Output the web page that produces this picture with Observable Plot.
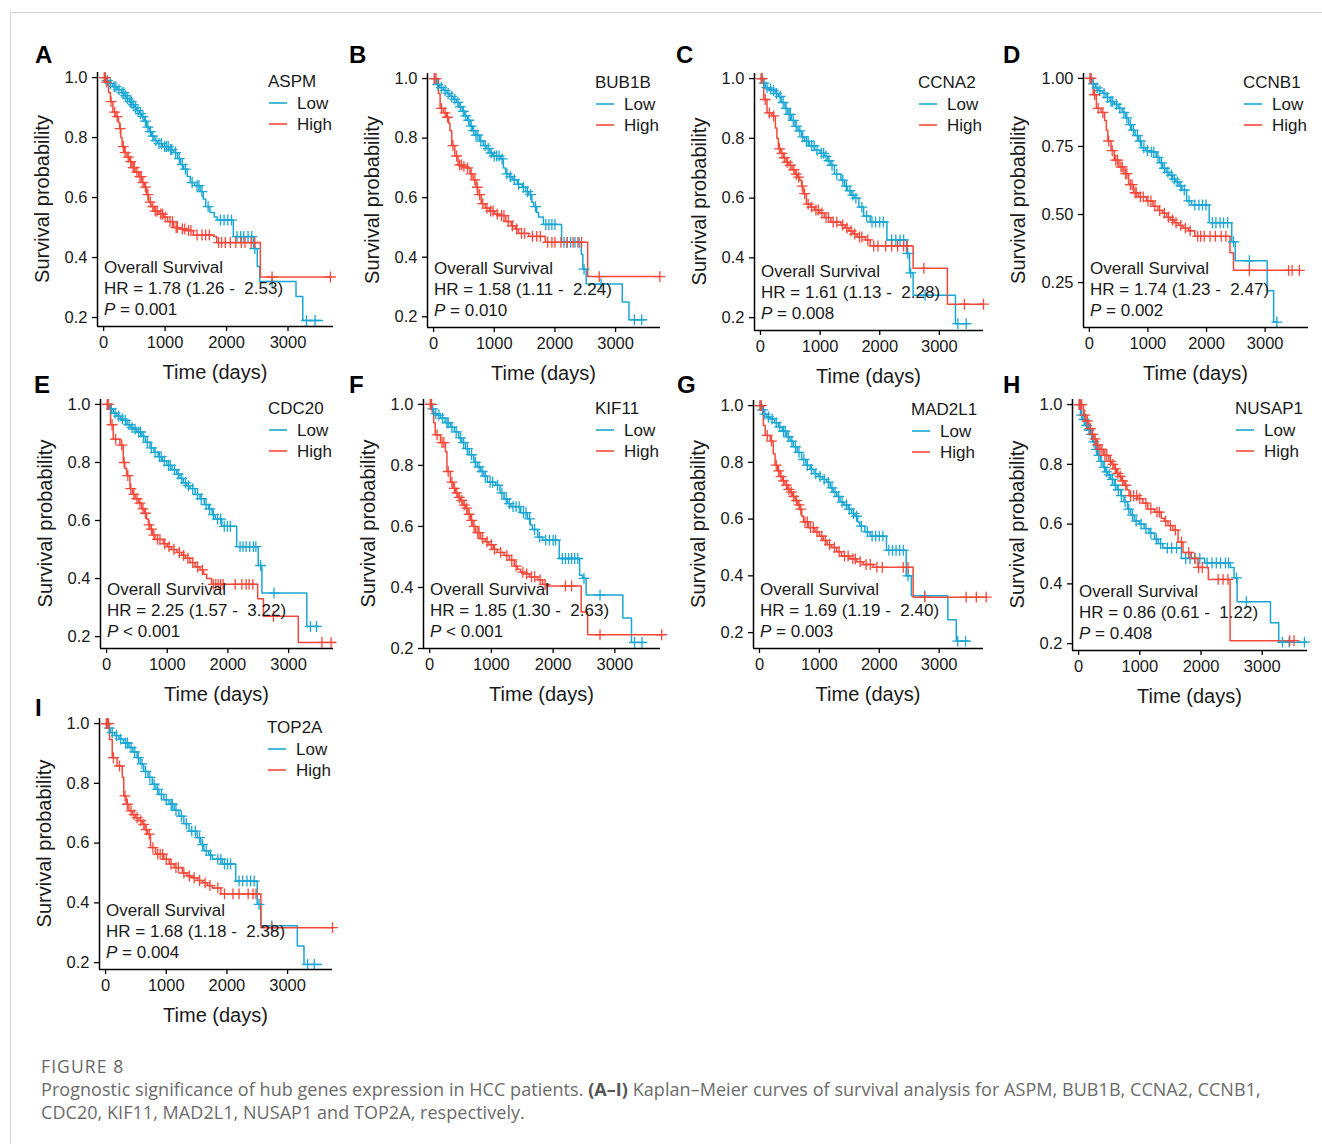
<!DOCTYPE html>
<html><head><meta charset="utf-8">
<script src="https://cdn.jsdelivr.net/npm/d3@7"></script>
<script src="https://cdn.jsdelivr.net/npm/@observablehq/plot@0.6"></script>
<style>
html,body{margin:0;padding:0;background:#fff;}
body{width:1322px;height:1144px;position:relative;overflow:hidden;font-family:"Liberation Sans",Arial,sans-serif;}
#frame{position:absolute;left:10px;top:12px;width:1330px;height:1150px;border-top:1px solid #d4d4d4;border-left:1px solid #d4d4d4;}
.panel{position:absolute;}
.panel svg{overflow:visible;}
.letter{position:absolute;font-weight:bold;font-size:24px;line-height:24px;color:#000;font-family:"Liberation Sans",Arial,sans-serif;}
#figtitle{position:absolute;left:41px;top:1056px;height:20px;font-family:"Open Sans",sans-serif;font-size:17.5px;line-height:20px;color:#666;letter-spacing:1.1px;}
#caption{position:absolute;left:41px;top:1078px;font-family:"Open Sans",sans-serif;font-size:18px;line-height:23px;color:#6b6b6b;white-space:nowrap;letter-spacing:0.05px;}
#caption b{color:#555;}
</style></head>
<body>
<div id="frame"></div>
<div id="panels"></div>
<div id="figtitle">FIGURE 8</div>
<div id="caption">Prognostic significance of hub genes expression in HCC patients. <b>(A–I)</b> Kaplan–Meier curves of survival analysis for ASPM, BUB1B, CCNA2, CCNB1,<br>CDC20, KIF11, MAD2L1, NUSAP1 and TOP2A, respectively.</div>
<script>
// ---------------- DATA ----------------
const genes = ["ASPM","BUB1B","CCNA2","CCNB1","CDC20","KIF11","MAD2L1","NUSAP1","TOP2A"];
const panelLetters = ["A","B","C","D","E","F","G","H","I"];
const hrLabels = ["1.78 (1.26 -  2.53)","1.58 (1.11 -  2.24)","1.61 (1.13 -  2.28)","1.74 (1.23 -  2.47)","2.25 (1.57 -  3.22)","1.85 (1.30 -  2.63)","1.69 (1.19 -  2.40)","0.86 (0.61 -  1.22)","1.68 (1.18 -  2.38)"];
const pLabels = ["= 0.001","= 0.010","= 0.008","= 0.002","< 0.001","< 0.001","= 0.003","= 0.408","= 0.004"];
const groupNames = ["Low","High"];
const xTicks = [0,1000,2000,3000];
const yTicksTenths = [0.2,0.4,0.6,0.8,1.0];
const yTicksQuarters = [0.25,0.5,0.75,1.0];

// Kaplan–Meier steps [time (days), survival]
const lowASPM = [[0,1],[40,0.99],[90,0.98],[150,0.97],[220,0.96],[290,0.95],[340,0.94],[380,0.93],[420,0.92],[460,0.91],[500,0.9],[540,0.89],[580,0.88],[620,0.87],[660,0.855],[700,0.835],[740,0.82],[780,0.805],[820,0.79],[880,0.78],[960,0.77],[1060,0.76],[1140,0.75],[1200,0.73],[1250,0.71],[1300,0.695],[1360,0.67],[1410,0.65],[1480,0.64],[1570,0.62],[1620,0.595],[1660,0.57],[1730,0.55],[1800,0.535],[1850,0.525],[2110,0.47],[2440,0.43],[2500,0.37],[2540,0.32],[3130,0.27],[3240,0.19],[3560,0.19]];
const highASPM = [[0,1],[50,0.985],[80,0.95],[110,0.92],[150,0.885],[200,0.87],[240,0.85],[260,0.83],[280,0.8],[300,0.77],[340,0.75],[380,0.735],[420,0.72],[460,0.7],[510,0.685],[570,0.67],[620,0.65],[660,0.635],[700,0.61],[730,0.585],[770,0.57],[820,0.555],[900,0.545],[975,0.535],[1040,0.52],[1140,0.5],[1250,0.495],[1355,0.49],[1460,0.475],[1790,0.47],[1840,0.45],[2550,0.335],[3690,0.335]];
const lowASPMcens = [20,60,110,170,200,250,300,330,360,390,430,450,480,520,560,600,640,680,720,760,800,850,900,940,990,1020,1050,1090,1110,1170,1230,1280,1330,1440,1520,1550,1600,1700,1900,1960,2020,2080,2170,2230,2280,2350,2410,2460,2740,3300,3440];
const highASPMcens = [10,30,50,120,180,220,270,320,350,400,440,480,500,540,590,610,640,680,720,760,800,840,870,930,960,1000,1080,1120,1180,1200,1280,1320,1380,1420,1520,1600,1660,1720,1870,1920,1980,2060,2150,2240,2300,2400,2460,2740,3690];

const lowBUB1B = [[0,1],[50,0.98],[100,0.97],[160,0.96],[220,0.95],[270,0.94],[330,0.93],[380,0.92],[420,0.905],[470,0.89],[515,0.875],[560,0.86],[600,0.84],[640,0.825],[690,0.81],[760,0.79],[820,0.775],[870,0.765],[930,0.75],[975,0.74],[1110,0.73],[1150,0.7],[1190,0.68],[1250,0.67],[1300,0.66],[1380,0.645],[1460,0.635],[1520,0.62],[1570,0.61],[1620,0.585],[1650,0.57],[1700,0.55],[1730,0.535],[1810,0.51],[2110,0.45],[2435,0.41],[2460,0.36],[2515,0.31],[3110,0.25],[3220,0.19],[3490,0.19]];
const highBUB1B = [[0,1],[80,0.95],[108,0.9],[160,0.885],[216,0.87],[250,0.85],[270,0.825],[300,0.775],[350,0.74],[405,0.71],[470,0.705],[540,0.7],[600,0.68],[650,0.66],[700,0.635],[730,0.61],[785,0.58],[850,0.565],[920,0.555],[1000,0.545],[1080,0.54],[1190,0.52],[1280,0.505],[1350,0.495],[1400,0.48],[1570,0.47],[1840,0.45],[2540,0.335],[3730,0.335]];
const lowBUB1Bcens = [20,70,130,190,240,300,350,400,440,490,530,580,620,660,700,730,780,850,900,950,1000,1040,1080,1130,1210,1270,1330,1400,1480,1550,1600,1680,1850,1900,1950,2000,2150,2200,2260,2330,2400,2480,2760,3310,3430];
const highBUB1Bcens = [10,40,130,190,230,320,380,430,460,500,560,620,680,720,760,810,880,940,980,1050,1120,1160,1230,1300,1370,1450,1500,1630,1700,1760,1880,1950,2000,2100,2200,2300,2380,2440,2730,3730];

const lowCCNA2 = [[0,1],[40,0.985],[80,0.97],[140,0.965],[190,0.96],[250,0.95],[300,0.94],[350,0.92],[410,0.9],[460,0.88],[520,0.86],[580,0.84],[630,0.825],[690,0.805],[740,0.79],[820,0.775],[910,0.76],[1000,0.75],[1070,0.74],[1130,0.725],[1180,0.71],[1240,0.68],[1350,0.66],[1410,0.64],[1460,0.625],[1520,0.61],[1570,0.6],[1650,0.57],[1730,0.54],[1840,0.52],[2120,0.46],[2450,0.415],[2500,0.35],[2560,0.275],[3270,0.18],[3490,0.18]];
const highCCNA2 = [[0,1],[55,0.93],[110,0.885],[190,0.875],[250,0.835],[275,0.8],[300,0.765],[340,0.75],[385,0.735],[430,0.72],[470,0.71],[530,0.695],[580,0.68],[620,0.67],[660,0.66],[690,0.64],[715,0.615],[770,0.58],[840,0.57],[910,0.56],[990,0.55],[1070,0.535],[1180,0.52],[1350,0.51],[1420,0.5],[1485,0.49],[1550,0.48],[1620,0.47],[1760,0.46],[1840,0.44],[2560,0.365],[3135,0.245],[3740,0.245]];
const lowCCNA2cens = [20,60,110,170,220,270,330,380,430,480,500,550,600,660,710,770,800,860,900,950,1020,1060,1100,1150,1200,1280,1380,1440,1500,1550,1600,1700,1780,1870,1930,2000,2060,2200,2270,2340,2400,2470,2520,2760,3310,3450];
const highCCNA2cens = [10,30,80,150,220,320,360,400,450,500,560,600,640,700,740,800,860,930,970,1030,1100,1140,1220,1280,1380,1450,1520,1580,1660,1700,1800,1900,1970,2100,2200,2300,2400,2460,2740,3420,3740];

const lowCCNB1 = [[0,1],[40,0.98],[100,0.965],[150,0.955],[220,0.945],[285,0.93],[350,0.915],[425,0.905],[490,0.89],[560,0.875],[620,0.855],[670,0.83],[720,0.81],[780,0.79],[840,0.77],[890,0.745],[960,0.735],[1030,0.73],[1140,0.71],[1200,0.69],[1250,0.67],[1310,0.655],[1360,0.645],[1420,0.63],[1470,0.62],[1530,0.605],[1580,0.59],[1660,0.55],[1745,0.535],[2045,0.47],[2430,0.4],[2490,0.33],[3035,0.22],[3145,0.105],[3200,0.105]];
const highCCNB1 = [[0,1],[65,0.94],[120,0.89],[200,0.875],[260,0.845],[290,0.81],[315,0.77],[370,0.735],[425,0.7],[505,0.675],[590,0.65],[670,0.61],[755,0.58],[835,0.565],[975,0.55],[1085,0.53],[1170,0.515],[1250,0.505],[1320,0.49],[1385,0.48],[1450,0.47],[1525,0.46],[1600,0.45],[1690,0.44],[1800,0.42],[2400,0.36],[2460,0.295],[3585,0.295]];
const lowCCNB1cens = [20,70,130,180,250,310,370,400,460,520,590,640,700,750,820,870,930,990,1060,1100,1170,1230,1280,1340,1400,1450,1500,1560,1620,1700,1800,1870,1930,1990,2100,2160,2230,2290,2360,2460,2730,3200];
const highCCNB1cens = [10,30,90,150,230,330,390,450,480,540,560,620,640,700,730,780,800,870,920,1000,1050,1120,1200,1280,1350,1420,1480,1560,1640,1720,1850,1900,1960,2060,2150,2250,2330,2730,3400,3460,3585];

const lowCDC20 = [[0,1],[50,0.985],[110,0.97],[170,0.96],[230,0.95],[275,0.945],[340,0.93],[400,0.92],[440,0.915],[500,0.905],[580,0.89],[640,0.87],[715,0.85],[780,0.835],[850,0.82],[920,0.805],[990,0.79],[1080,0.775],[1155,0.76],[1210,0.745],[1265,0.73],[1320,0.72],[1375,0.71],[1460,0.69],[1540,0.675],[1610,0.655],[1680,0.64],[1740,0.62],[1790,0.605],[1900,0.58],[2145,0.51],[2500,0.445],[2560,0.35],[3300,0.235],[3500,0.235]];
const highCDC20 = [[0,1],[65,0.93],[110,0.88],[220,0.86],[275,0.8],[300,0.78],[330,0.755],[385,0.71],[430,0.69],[470,0.675],[530,0.66],[580,0.64],[620,0.625],[660,0.605],[690,0.585],[715,0.57],[760,0.55],[800,0.535],[935,0.52],[1000,0.51],[1070,0.5],[1160,0.49],[1240,0.48],[1300,0.47],[1375,0.455],[1460,0.44],[1540,0.43],[1600,0.415],[1650,0.4],[1730,0.38],[2490,0.33],[2585,0.27],[3160,0.18],[3770,0.18]];
const lowCDC20cens = [20,80,140,200,260,310,370,420,470,530,560,610,670,740,800,870,900,950,1020,1050,1120,1180,1240,1300,1350,1420,1500,1560,1640,1700,1760,1830,1880,1940,1990,2040,2200,2250,2300,2360,2420,2460,2540,2760,3360,3460];
const highCDC20cens = [10,30,90,150,250,290,350,400,450,500,550,600,640,700,740,780,840,880,960,1030,1110,1200,1270,1340,1420,1500,1580,1760,1800,1840,1880,1920,2120,2230,2300,2350,2410,2750,3550,3700];

const lowKIF11 = [[0,1],[30,0.985],[65,0.97],[120,0.965],[175,0.955],[250,0.94],[335,0.925],[400,0.91],[470,0.89],[520,0.875],[580,0.855],[640,0.835],[715,0.81],[770,0.795],[825,0.78],[880,0.765],[935,0.745],[1070,0.735],[1140,0.71],[1205,0.69],[1260,0.675],[1315,0.665],[1475,0.645],[1585,0.625],[1630,0.605],[1665,0.59],[1750,0.565],[1830,0.555],[2100,0.495],[2430,0.44],[2480,0.43],[2535,0.375],[3130,0.3],[3270,0.22],[3490,0.22]];
const highKIF11 = [[0,1],[40,0.975],[65,0.94],[90,0.9],[175,0.875],[255,0.845],[280,0.78],[335,0.745],[380,0.725],[420,0.71],[460,0.695],[500,0.685],[540,0.67],[580,0.66],[620,0.64],[660,0.62],[700,0.6],[745,0.58],[825,0.56],[900,0.55],[960,0.54],[1030,0.525],[1095,0.515],[1205,0.505],[1290,0.49],[1370,0.47],[1420,0.46],[1475,0.45],[1540,0.445],[1615,0.435],[1750,0.425],[1830,0.41],[1900,0.405],[2455,0.32],[2560,0.245],[3760,0.245]];
const lowKIF11cens = [20,50,100,150,210,280,300,360,430,500,550,610,680,740,800,850,900,980,1020,1100,1170,1240,1290,1350,1400,1450,1520,1560,1620,1700,1780,1880,1940,2000,2040,2150,2200,2250,2300,2350,2400,2500,2760,3320,3440];
const highKIF11cens = [10,30,120,200,230,300,360,400,440,480,520,560,600,640,680,720,780,800,860,930,1000,1050,1150,1250,1330,1400,1510,1570,1650,1700,1790,1870,2200,2300,2760,3760];

const lowMAD2L1 = [[0,1],[30,0.985],[65,0.97],[120,0.96],[180,0.953],[250,0.94],[315,0.925],[380,0.91],[455,0.89],[510,0.875],[565,0.855],[630,0.835],[705,0.81],[775,0.79],[845,0.775],[910,0.76],[980,0.75],[1050,0.74],[1120,0.73],[1180,0.71],[1230,0.695],[1290,0.68],[1345,0.66],[1410,0.65],[1480,0.635],[1540,0.62],[1595,0.61],[1640,0.59],[1675,0.575],[1760,0.555],[1845,0.54],[2120,0.49],[2450,0.4],[2535,0.33],[3145,0.245],[3285,0.17],[3490,0.17]];
const highMAD2L1 = [[0,1],[65,0.93],[95,0.895],[180,0.875],[230,0.83],[260,0.79],[300,0.77],[345,0.75],[385,0.735],[425,0.72],[470,0.705],[510,0.695],[550,0.68],[595,0.665],[640,0.65],[675,0.635],[705,0.61],[735,0.59],[815,0.57],[925,0.555],[1000,0.54],[1065,0.525],[1130,0.51],[1205,0.5],[1290,0.485],[1370,0.47],[1510,0.46],[1620,0.45],[1730,0.44],[1900,0.43],[2565,0.325],[3785,0.325]];
const lowMAD2L1cens = [10,50,90,150,210,280,340,400,430,480,540,600,660,740,800,870,940,1010,1080,1150,1210,1260,1320,1380,1450,1500,1570,1620,1700,1800,1880,1940,2000,2060,2160,2220,2280,2340,2400,2480,2760,3310,3440];
const highMAD2L1cens = [10,30,130,200,280,320,360,400,450,490,530,570,620,660,690,760,800,850,900,960,1040,1100,1170,1250,1330,1420,1480,1560,1600,1680,1780,1850,1960,2050,2400,2480,2760,3450,3620,3785];

const lowNUSAP1 = [[0,1],[30,0.965],[70,0.95],[110,0.93],[150,0.915],[190,0.9],[230,0.875],[275,0.85],[310,0.83],[355,0.81],[400,0.79],[440,0.775],[470,0.765],[520,0.75],[580,0.73],[630,0.715],[690,0.695],[740,0.675],[800,0.65],[850,0.63],[910,0.61],[990,0.6],[1070,0.585],[1150,0.57],[1240,0.55],[1300,0.535],[1375,0.52],[1680,0.485],[2060,0.47],[2480,0.455],[2540,0.42],[2590,0.34],[3135,0.27],[3270,0.205],[3730,0.205]];
const highNUSAP1 = [[0,1],[80,0.965],[120,0.945],[165,0.92],[210,0.9],[250,0.885],[290,0.865],[330,0.85],[410,0.83],[495,0.81],[540,0.8],[580,0.785],[620,0.77],[660,0.76],[700,0.745],[745,0.73],[790,0.715],[825,0.695],[965,0.685],[1050,0.67],[1130,0.65],[1240,0.64],[1350,0.62],[1400,0.61],[1460,0.595],[1540,0.58],[1625,0.54],[1705,0.505],[1840,0.485],[1950,0.455],[2120,0.415],[2475,0.21],[3520,0.21]];
const lowNUSAP1cens = [10,50,90,130,170,210,250,290,330,370,420,460,500,550,600,650,700,760,820,880,940,1020,1100,1180,1270,1340,1450,1520,1600,1750,1820,1900,1980,2100,2180,2250,2320,2400,2450,2580,2740,3330,3440,3690];
const highNUSAP1cens = [10,30,50,100,140,190,230,270,310,350,380,430,460,520,560,600,640,680,720,770,850,900,950,1000,1100,1180,1280,1320,1420,1500,1580,1680,1800,1900,1960,2020,2280,2360,2440,3450,3520];

const lowTOP2A = [[0,1],[40,0.985],[80,0.97],[150,0.96],[220,0.948],[300,0.935],[385,0.92],[450,0.905],[520,0.886],[570,0.865],[630,0.84],[700,0.82],[770,0.797],[830,0.78],[880,0.763],[960,0.745],[1045,0.73],[1130,0.71],[1210,0.69],[1290,0.665],[1375,0.64],[1510,0.618],[1570,0.595],[1620,0.574],[1700,0.56],[1760,0.546],[1925,0.53],[2145,0.473],[2500,0.395],[2560,0.323],[3160,0.256],[3270,0.194],[3560,0.194]];
const highTOP2A = [[0,1],[65,0.947],[110,0.886],[190,0.858],[275,0.82],[300,0.758],[340,0.73],[385,0.708],[440,0.695],[495,0.685],[550,0.675],[605,0.663],[650,0.645],[690,0.63],[740,0.585],[825,0.563],[960,0.546],[1050,0.53],[1130,0.518],[1265,0.5],[1340,0.49],[1430,0.484],[1510,0.475],[1595,0.467],[1680,0.458],[1760,0.45],[1900,0.43],[2560,0.317],[3740,0.317]];
const lowTOP2Acens = [20,60,110,180,250,330,360,420,480,540,600,660,730,800,860,920,1000,1080,1100,1160,1250,1330,1420,1480,1550,1600,1660,1730,1850,1900,1960,2010,2060,2200,2260,2330,2390,2450,2530,2740,3330,3440];
const highTOP2Acens = [10,30,50,130,230,320,360,420,470,520,580,630,670,720,780,860,900,940,1000,1080,1160,1200,1290,1380,1460,1550,1640,1720,1850,1960,2100,2200,2350,2430,2480,2740,3740];

// ---------------- STYLE / LAYOUT ----------------
const lowColor = "#1ba7d3";
const highColor = "#f4493a";
const xDomain = [-100, 3740];
const layout = [
  {axisX:97,  top:72,  bottom:326, right:333,  yDomain:[0.17,1.017],  q:false, letter:[35,43]},
  {axisX:427, top:73,  bottom:327, right:660,  yDomain:[0.164,1.017], q:false, letter:[349,43]},
  {axisX:754, top:73,  bottom:330, right:983,  yDomain:[0.157,1.017], q:false, letter:[676,43]},
  {axisX:1083,top:73,  bottom:327, right:1308, yDomain:[0.085,1.018], q:true,  letter:[1003,43]},
  {axisX:100, top:399, bottom:648, right:333,  yDomain:[0.159,1.017], q:false, letter:[34,373]},
  {axisX:423, top:399, bottom:648, right:660,  yDomain:[0.2,1.016],   q:false, letter:[349,373]},
  {axisX:753, top:400, bottom:648, right:983,  yDomain:[0.144,1.018], q:false, letter:[677,373]},
  {axisX:1072,top:399, bottom:650, right:1307, yDomain:[0.177,1.017], q:false, letter:[1003,373]},
  {axisX:99,  top:718, bottom:969, right:332,  yDomain:[0.177,1.017], q:false, letter:[35,696]}
];

const lowSets = [lowASPM,lowBUB1B,lowCCNA2,lowCCNB1,lowCDC20,lowKIF11,lowMAD2L1,lowNUSAP1,lowTOP2A];
const highSets = [highASPM,highBUB1B,highCCNA2,highCCNB1,highCDC20,highKIF11,highMAD2L1,highNUSAP1,highTOP2A];
const lowCens = [lowASPMcens,lowBUB1Bcens,lowCCNA2cens,lowCCNB1cens,lowCDC20cens,lowKIF11cens,lowMAD2L1cens,lowNUSAP1cens,lowTOP2Acens];
const highCens = [highASPMcens,highBUB1Bcens,highCCNA2cens,highCCNB1cens,highCDC20cens,highKIF11cens,highMAD2L1cens,highNUSAP1cens,highTOP2Acens];

function toRows(steps){ return steps.map(([t,s]) => ({t, s})); }
function stepAt(steps, t){ let v = steps[0][1]; for (const [tt,s] of steps){ if (tt <= t) v = s; else break; } return v; }
function censRows(steps, times){ return times.map(t => ({t, s: stepAt(steps, t)})); }

const FONT = "'Liberation Sans', Arial, sans-serif";
const TXT = 17;
const host = document.getElementById("panels");

genes.forEach((gene, i) => {
  const L = layout[i];
  const ml = 80, mt = 10, mr = 12, mb = 62;
  const fw = L.right - L.axisX, fh = L.bottom - L.top;
  const width = fw + ml + mr, height = fh + mt + mb;
  const low = toRows(lowSets[i]), high = toRows(highSets[i]);
  const lowC = censRows(lowSets[i], lowCens[i]), highC = censRows(highSets[i], highCens[i]);
  const plot = Plot.plot({
    width, height, marginLeft: ml, marginRight: mr, marginTop: mt, marginBottom: mb,
    style: {fontFamily: FONT, fontSize: "16.5px", color: "#1a1a1a", background: "transparent", overflow: "visible"},
    x: {domain: xDomain, ticks: xTicks, tickFormat: "d", tickSize: 5, tickPadding: 5, label: null},
    y: {domain: L.yDomain, ticks: L.q ? yTicksQuarters : yTicksTenths, tickFormat: L.q ? ".2f" : ".1f", tickSize: 5, tickPadding: 5, label: null},
    marks: [
      Plot.line(low, {x: "t", y: "s", curve: "step-after", stroke: lowColor, strokeWidth: 1.5}),
      Plot.line(high, {x: "t", y: "s", curve: "step-after", stroke: highColor, strokeWidth: 1.5}),
      Plot.dot(lowC, {x: "t", y: "s", symbol: "plus", r: 3.6, stroke: lowColor, strokeWidth: 1.3}),
      Plot.dot(highC, {x: "t", y: "s", symbol: "plus", r: 3.6, stroke: highColor, strokeWidth: 1.3}),
      Plot.ruleX([xDomain[0]], {stroke: "#000", strokeWidth: 1.5}),
      Plot.ruleY([L.yDomain[0]], {stroke: "#000", strokeWidth: 1.5})
    ]
  });
  const svg = d3.select(plot);
  svg.selectAll("text").attr("font-size", 16.5).style("font-size", "16.5px").attr("fill", "#1a1a1a");
  svg.selectAll("g[aria-label$='axis'] path, g[aria-label$='tick'] path").attr("stroke", "#000").attr("stroke-width", 1.3);
  const g = svg.append("g").attr("font-family", FONT).attr("fill", "#1a1a1a").attr("text-anchor", "start").style("font-size", TXT + "px");
  // legend
  const lx = ml + fw - (gene.length > 5 ? 72 : 65);
  g.append("text").attr("x", lx).attr("y", mt + 9).attr("dy", "0.35em").text(gene);
  [lowColor, highColor].forEach((c, k) => {
    const yy = mt + 31 + 21 * k;
    g.append("line").attr("x1", lx + 1).attr("x2", lx + 19).attr("y1", yy).attr("y2", yy).attr("stroke", c).attr("stroke-width", 1.6);
    g.append("text").attr("x", lx + 29).attr("y", yy).attr("dy", "0.35em").text(groupNames[k]);
  });
  // statistics annotation
  const ax = ml + 7, by = mt + fh;
  g.append("text").attr("x", ax).attr("y", by - 59).attr("dy", "0.35em").text("Overall Survival");
  g.append("text").attr("x", ax).attr("y", by - 38).attr("dy", "0.35em").style("white-space", "pre").text("HR = " + hrLabels[i]);
  const pt = g.append("text").attr("x", ax).attr("y", by - 17).attr("dy", "0.35em").style("white-space", "pre");
  pt.append("tspan").attr("font-style", "italic").text("P");
  pt.append("tspan").text(" " + pLabels[i]);
  // axis titles
  g.append("text").attr("x", ml + fw / 2).attr("y", by + 46).attr("dy", "0.35em").attr("text-anchor", "middle").style("font-size", "20px").text("Time (days)");
  g.append("text").attr("transform", `translate(${ml - (L.q ? 65 : 55)},${mt + fh / 2}) rotate(-90)`).attr("dy", "0.35em").attr("text-anchor", "middle").style("font-size", "20px").text("Survival probability");

  const div = document.createElement("div");
  div.className = "panel";
  div.style.left = (L.axisX - ml) + "px";
  div.style.top = (L.top - mt) + "px";
  div.appendChild(plot);
  host.appendChild(div);

  const letter = document.createElement("div");
  letter.className = "letter";
  letter.style.left = L.letter[0] + "px";
  letter.style.top = L.letter[1] + "px";
  letter.textContent = panelLetters[i];
  host.appendChild(letter);
});
</script>
</body></html>
